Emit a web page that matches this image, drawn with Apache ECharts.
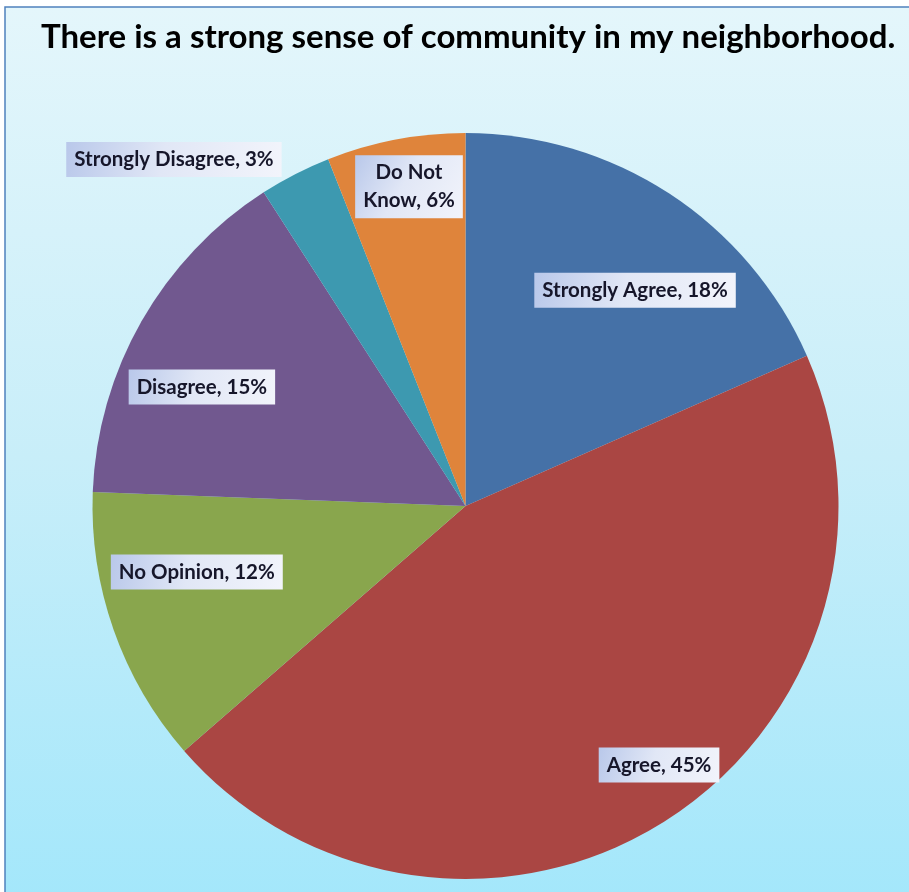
<!DOCTYPE html>
<html>
<head>
<meta charset="utf-8">
<script src="https://cdn.jsdelivr.net/npm/echarts@6/dist/echarts.min.js"></script>
<style>
html,body{margin:0;padding:0;background:#ffffff;}
#chart{width:909px;height:892px;}
</style>
</head>
<body>
<div id="chart"></div>
<script>
// Data
const titleText = 'There is a strong sense of community in my neighborhood.';
const categories = ['Strongly Agree', 'Agree', 'No Opinion', 'Disagree', 'Strongly Disagree', 'Do Not Know'];
const values = [18.4, 45.2, 12.0, 15.3, 3.1, 6.0];
const shownPercents = [18, 45, 12, 15, 3, 6];
const labelTexts = ['Strongly Agree, 18%', 'Agree, 45%', 'No Opinion, 12%', 'Disagree, 15%', 'Strongly Disagree, 3%', 'Do Not\nKnow, 6%'];

// Styling
const colors = ['#4571a7', '#aa4643', '#89a64d', '#71588f', '#3d99b0', '#df843b'];
const labelShift = [[66, -57], [92, 99], [-90, 3], [-99, -25], [-205, -178], [-21, -133]];

const chart = echarts.init(document.getElementById('chart'), null, {renderer: 'canvas'});

const labelBg = new echarts.graphic.LinearGradient(0, 0, 1, 1, [
  {offset: 0, color: '#b9c8ea'},
  {offset: 0.45, color: '#e1e7f6'},
  {offset: 1, color: '#f2f4fb'}
]);

chart.setOption({
  backgroundColor: '#ffffff',
  graphic: [{
    type: 'rect', z: -10, silent: true,
    shape: {x: 5, y: 7, width: 930, height: 900},
    style: {
      fill: new echarts.graphic.LinearGradient(0, 0, 0, 1, [
        {offset: 0, color: '#e4f6fb'},
        {offset: 0.5, color: '#c8eef9'},
        {offset: 1, color: '#a3e7fb'}
      ]),
      stroke: '#4f81bd', lineWidth: 1.5
    }
  }],
  title: {
    text: titleText,
    left: 36,
    top: 16,
    textStyle: {
      fontFamily: 'Lato',
      fontWeight: 'bold',
      fontSize: 33,
      color: '#000000'
    }
  },
  series: [{
    type: 'pie',
    center: [465.5, 506],
    radius: [0, 373],
    startAngle: 90,
    clockwise: true,
    avoidLabelOverlap: false,
    animation: false,
    itemStyle: {borderWidth: 0},
    label: {
      show: true,
      position: 'inside',
      formatter: p => labelTexts[p.dataIndex],
      fontFamily: 'Lato',
      fontWeight: 'bold',
      fontSize: 20.5,
      lineHeight: 28,
      color: '#16162a',
      align: 'center',
      backgroundColor: labelBg,
      padding: [4, 8, 3, 8]
    },
    labelLine: {show: false},
    labelLayout: p => ({dx: labelShift[p.dataIndex][0], dy: labelShift[p.dataIndex][1]}),
    data: categories.map((c, i) => ({
      name: c,
      value: values[i],
      itemStyle: {color: colors[i]}
    }))
  }]
});
</script>
</body>
</html>
